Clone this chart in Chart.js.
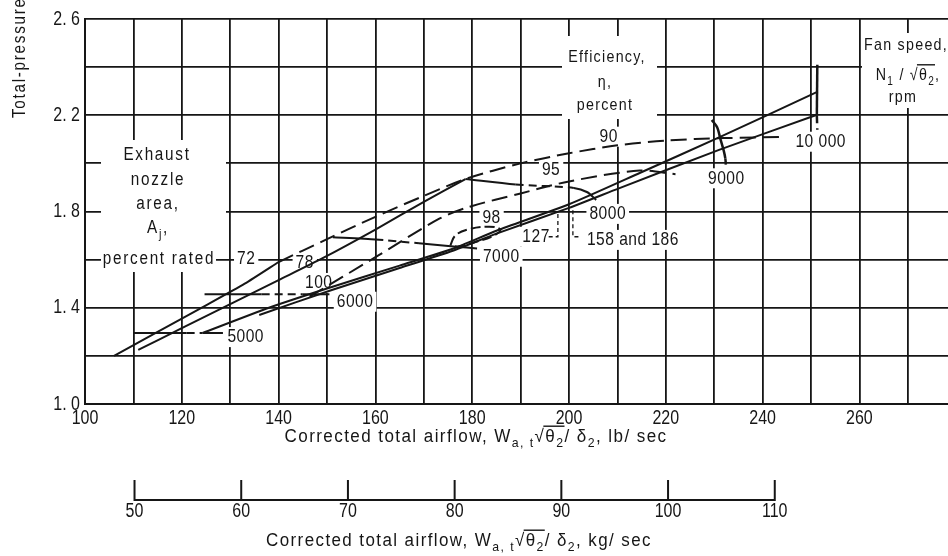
<!DOCTYPE html>
<html>
<head>
<meta charset="utf-8">
<script src="https://cdn.jsdelivr.net/npm/chart.js@4.4.0/dist/chart.umd.min.js"></script>
<style>
  html, body { margin: 0; padding: 0; background: #fff; }
</style>
</head>
<body>
<canvas id="mapChart" width="948" height="556"></canvas>
<script>
// ---- values ----
const lbTickLabels = [100, 120, 140, 160, 180, 200, 220, 240, 260];
const lbGrid = [100, 110, 120, 130, 140, 150, 160, 170, 180, 190, 200, 210, 220, 230, 240, 250, 260, 270];
const kgTickLabels = [50, 60, 70, 80, 90, 100, 110];
const pressureTickLabels = [1.0, 1.4, 1.8, 2.2, 2.6];
const pressureGrid = [1.0, 1.2, 1.4, 1.6, 1.8, 2.0, 2.2, 2.4, 2.6];

// exhaust nozzle area lines, percent rated (airflow lb/sec, pressure ratio)
const nozzle72 = [[106, 1.2], [115, 1.3], [125, 1.41], [133, 1.5], [140, 1.59]];
const nozzle78 = [[111, 1.225], [120, 1.315], [130, 1.415], [140, 1.515], [149, 1.605], [160, 1.725], [170, 1.84], [178.6, 1.935]];
const nozzle100 = [[124.3, 1.295], [138, 1.4], [150, 1.48], [165, 1.575], [176, 1.645], [185, 1.72], [200, 1.83], [214.6, 1.96], [231, 2.108], [251.4, 2.298]];
const nozzle127to186 = [[136, 1.37], [151, 1.474], [165, 1.565], [176, 1.637], [185, 1.708], [200, 1.815], [210.3, 1.896], [231, 2.056], [251.1, 2.201]];

// efficiency contours, percent
const eff90 = [[140, 1.59], [150, 1.685], [160, 1.778], [170, 1.865], [178.6, 1.935], [190, 2.0], [200, 2.042], [210, 2.075], [220, 2.095], [232, 2.105], [244.6, 2.11]];
const eff95 = [[146.4, 1.446], [160, 1.61], [173.2, 1.77], [179.5, 1.82], [190, 1.875], [200, 1.925], [214.6, 1.97], [222, 1.955]];
const eff98 = [[175.5, 1.66], [176.5, 1.7], [179, 1.725], [183.5, 1.737], [185.8, 1.725], [184.5, 1.7], [181, 1.675], [177, 1.655], [175.5, 1.66]];

// fan speed lines, rpm
const speed5000 = [[110, 1.295], [121, 1.295], [124.3, 1.295], [128.5, 1.295]];
const speed6000 = [[124.7, 1.456], [136.5, 1.456], [145, 1.456], [150.5, 1.456]];
const speed7000 = [[151.2, 1.693], [160, 1.684], [169, 1.668], [176.7, 1.654], [181, 1.646]];
const speed8000 = [[178.6, 1.935], [189, 1.912], [201, 1.898], [203.8, 1.88], [205.6, 1.848]];
const speed9000 = [[229.5, 2.18], [230.6, 2.15], [231.3, 2.1], [232, 2.05], [232.3, 2.02], [232.4, 1.995]];
const speed10000 = [[251.3, 2.41], [251.2, 2.2], [251.3, 2.14]];

// which segments are drawn dashed
const speed5000Dash = [0, 1, 0];
const speed6000Dash = [0, 1, 0];
const speed7000Dash = [0, 1, 0, 0];
const speed8000Dash = [0, 1, 0, 0];
const speed9000Dash = [0, 0, 0, 0, 1];
const speed10000Dash = [0, 1];

// leaders for the 127 and 158/186 labels
const lead127 = [[195.8, 1.695], [197.7, 1.695], [197.7, 1.8]];
const lead158 = [[200.8, 1.805], [200.8, 1.695], [202.5, 1.695]];

const LB_PER_KG = 2.20462;

// ---- styling ----
const INK = "#161616";
const FACE = '"Liberation Sans", Arial, sans-serif';

const tickStyle = { size: 20, sx: 0.8, ls: 0 };
const markStyle = { size: 19, sx: 0.82, ls: 0.6 };
const blockStyle = { size: 18, sx: 0.85, ls: 2 };
const sideStyle = { size: 17, sx: 0.84, ls: 1.5 };

// labels on the curves (placed in data units)
const curveLabels = [
  { parts: [{ t: "72" }], x: 133.3, y: 1.603 },
  { parts: [{ t: "78" }], x: 145.4, y: 1.586 },
  { parts: [{ t: "100" }], x: 148.3, y: 1.503 },
  { parts: [{ t: "5000" }], x: 133.2, y: 1.278 },
  { parts: [{ t: "6000" }], x: 155.8, y: 1.425 },
  { parts: [{ t: "7000" }], x: 186, y: 1.612 },
  { parts: [{ t: "98" }], x: 184, y: 1.773 },
  { parts: [{ t: "127" }], x: 193.2, y: 1.695 },
  { parts: [{ t: "158 and 186" }], x: 213.2, y: 1.682 },
  { parts: [{ t: "8000" }], x: 208, y: 1.79 },
  { parts: [{ t: "90" }], x: 208.2, y: 2.111 },
  { parts: [{ t: "95" }], x: 196.3, y: 1.973 },
  { parts: [{ t: "9000" }], x: 232.5, y: 1.938 },
  { parts: [{ t: "10 000" }], x: 252, y: 2.09 },
];

// text blocks (pixel centres) and the white panels behind them
const textBlocks = [
  { parts: [{ t: "Exhaust" }], x: 157, y: 155, st: blockStyle },
  { parts: [{ t: "nozzle" }], x: 158, y: 180, st: blockStyle },
  { parts: [{ t: "area," }], x: 158, y: 204, st: blockStyle },
  { parts: [{ t: "A" }, { t: "j", sub: true }, { t: "," }], x: 158, y: 228, st: blockStyle },
  { parts: [{ t: "percent rated" }], x: 159, y: 259, st: blockStyle },
  { parts: [{ t: "Efficiency," }], x: 607, y: 57, st: sideStyle },
  { parts: [{ t: "η," }], x: 605, y: 82, st: sideStyle },
  { parts: [{ t: "percent" }], x: 605, y: 105, st: sideStyle },
  { parts: [{ t: "Fan speed," }], x: 906, y: 45, st: sideStyle },
  { parts: [{ t: "N" }, { t: "1", sub: true }, { t: " / √" }, { t: "θ", over: true }, { t: "2", sub: true, over: true }, { t: "," }], x: 908, y: 75, st: sideStyle },
  { parts: [{ t: "rpm" }], x: 903, y: 97, st: sideStyle },
];
const whitePanels = [
  [101, 140, 125, 110],
  [101, 250, 115, 22],
  [562, 36, 95, 83],
  [862, 33, 86, 75],
];

function setFont(ctx, size, ls) {
  ctx.font = size + "px " + FACE;
  ctx.letterSpacing = (ls || 0) + "px";
}

function partSize(p, size) {
  return p.sub ? Math.round(size * 0.72) : size;
}

function textWidth(ctx, parts, st) {
  return parts.reduce((sum, p) => {
    setFont(ctx, partSize(p, st.size), st.ls);
    return sum + ctx.measureText(p.t).width * st.sx;
  }, 0);
}

// draws text made of parts (subscripts, overline for the radical), condensed by st.sx
function drawText(ctx, parts, cx, cy, st, align) {
  const total = textWidth(ctx, parts, st);
  let x = cx - total / 2;
  if (align === "right") x = cx - total;
  if (align === "left") x = cx;
  let overFrom = null;
  ctx.textAlign = "left";
  ctx.textBaseline = "middle";
  ctx.fillStyle = INK;
  parts.forEach((p, i) => {
    setFont(ctx, partSize(p, st.size), st.ls);
    const w = ctx.measureText(p.t).width * st.sx;
    ctx.save();
    ctx.translate(x, cy + (p.sub ? st.size * 0.38 : 0));
    ctx.scale(st.sx, 1);
    ctx.fillText(p.t, 0, 0);
    ctx.restore();
    if (p.over) {
      if (overFrom === null) overFrom = x;
      const next = parts[i + 1];
      if (!next || !next.over) {
        const oy = cy - st.size * 0.6;
        ctx.strokeStyle = INK;
        ctx.lineWidth = 1.4;
        ctx.beginPath();
        ctx.moveTo(overFrom - 2, oy);
        ctx.lineTo(x + w, oy);
        ctx.stroke();
        overFrom = null;
      }
    }
    x += w;
  });
  return total;
}

function labelPixel(chart, item) {
  return [chart.scales.x.getPixelForValue(item.x), chart.scales.y.getPixelForValue(item.y)];
}

function toPoints(list) {
  return list.map(([x, y]) => ({ x: x, y: y }));
}

function curve(list, opts) {
  opts = opts || {};
  const ds = {
    data: toPoints(list),
    borderColor: INK,
    borderWidth: opts.width || 2,
    borderDash: opts.dash || [],
    tension: opts.tension || 0,
    pointRadius: 0,
    fill: false,
  };
  if (opts.segDash) {
    ds.segment = {
      borderDash: (c) => (opts.segDash[c.p0DataIndex] ? [8, 5] : undefined),
    };
  }
  return ds;
}

function buildDatasets() {
  const longDash = [16, 7];
  return [
    curve(nozzle72, { tension: 0.2 }),
    curve(nozzle78, { tension: 0.2 }),
    curve(nozzle100, { tension: 0.2 }),
    curve(nozzle127to186, { tension: 0.2 }),
    curve(eff90, { dash: longDash, tension: 0.3 }),
    curve(eff95, { dash: longDash, tension: 0.3 }),
    curve(eff98, { dash: [10, 4], tension: 0.4 }),
    curve(speed5000, { segDash: speed5000Dash }),
    curve(speed6000, { segDash: speed6000Dash }),
    curve(speed7000, { segDash: speed7000Dash, tension: 0.2 }),
    curve(speed8000, { segDash: speed8000Dash, tension: 0.3 }),
    curve(speed9000, { segDash: speed9000Dash, tension: 0.3, width: 2.5 }),
    curve(speed10000, { segDash: speed10000Dash, width: 2.5 }),
    curve(lead127, { dash: [4, 3], width: 1.3 }),
    curve(lead158, { dash: [4, 3], width: 1.3 }),
  ];
}

function airflowTitle(unit) {
  return [
    { t: "Corrected total airflow, W" },
    { t: "a, t", sub: true },
    { t: "√" },
    { t: "θ", over: true },
    { t: "2", sub: true, over: true },
    { t: "/ δ" },
    { t: "2", sub: true },
    { t: ", " + unit },
  ];
}

// squeeze a title into the width it takes in the original
function fitStyle(ctx, parts, size, ls, width) {
  const natural = textWidth(ctx, parts, { size: size, sx: 1, ls: ls });
  return { size: size, sx: width / natural, ls: ls };
}

const paperPlugin = {
  id: "paper",
  beforeDraw(chart) {
    const ctx = chart.ctx;
    ctx.save();
    ctx.fillStyle = "#fff";
    ctx.fillRect(0, 0, chart.width, chart.height);
    ctx.restore();
  },
  beforeDatasetsDraw(chart) {
    const ctx = chart.ctx;
    ctx.save();
    ctx.fillStyle = "#fff";
    whitePanels.forEach(([x, y, w, h]) => ctx.fillRect(x, y, w, h));
    curveLabels.forEach((item) => {
      const [px, py] = labelPixel(chart, item);
      const w = textWidth(ctx, item.parts, markStyle);
      ctx.fillStyle = "#fff";
      ctx.fillRect(px - w / 2 - 3, py - 10, w + 6, 20);
    });
    ctx.restore();
  },
  afterDatasetsDraw(chart) {
    const ctx = chart.ctx;
    ctx.save();
    curveLabels.forEach((item) => {
      const [px, py] = labelPixel(chart, item);
      drawText(ctx, item.parts, px, py, markStyle);
    });
    textBlocks.forEach((item) => drawText(ctx, item.parts, item.x, item.y, item.st));
    ctx.restore();
  },
  afterDraw(chart) {
    const ctx = chart.ctx;
    const xs = chart.scales.x;
    const ys = chart.scales.y;
    ctx.save();

    // tick labels
    lbTickLabels.forEach((v) => drawText(ctx, [{ t: String(v) }], xs.getPixelForValue(v), 418, tickStyle));
    pressureTickLabels.forEach((v) =>
      drawText(ctx, [{ t: v.toFixed(1).replace(".", ". ") }], 80, ys.getPixelForValue(v), tickStyle, "right")
    );

    // y title, runs off the top of the page like the original
    ctx.save();
    ctx.translate(20, 118);
    ctx.rotate(-Math.PI / 2);
    drawText(ctx, [{ t: "Total-pressure ratio" }], 0, 0, blockStyle, "left");
    ctx.restore();

    const lbTitle = airflowTitle("lb/ sec");
    drawText(ctx, lbTitle, 476, 437, fitStyle(ctx, lbTitle, 18, 1.5, 383));

    // metric airflow scale, mapped through the lb/sec axis
    const base = 500;
    const left = xs.getPixelForValue(kgTickLabels[0] * LB_PER_KG);
    const right = xs.getPixelForValue(kgTickLabels[kgTickLabels.length - 1] * LB_PER_KG);
    ctx.strokeStyle = INK;
    ctx.lineWidth = 2;
    ctx.beginPath();
    ctx.moveTo(left - 1, base);
    ctx.lineTo(right + 1, base);
    kgTickLabels.forEach((kg) => {
      const px = xs.getPixelForValue(kg * LB_PER_KG);
      ctx.moveTo(px, base);
      ctx.lineTo(px, base - 20);
    });
    ctx.stroke();
    kgTickLabels.forEach((kg) => drawText(ctx, [{ t: String(kg) }], xs.getPixelForValue(kg * LB_PER_KG), 511, tickStyle));
    const kgTitle = airflowTitle("kg/ sec");
    drawText(ctx, kgTitle, 459, 541, fitStyle(ctx, kgTitle, 18, 1.5, 386));
    ctx.restore();
  },
};

new Chart(document.getElementById("mapChart"), {
  type: "line",
  data: { datasets: buildDatasets() },
  options: {
    responsive: false,
    animation: false,
    devicePixelRatio: 1,
    layout: { padding: { top: 19, left: 0, right: 0, bottom: 0 } },
    plugins: { legend: { display: false }, tooltip: { enabled: false } },
    scales: {
      x: {
        type: "linear",
        min: 100,
        max: 278.3,
        afterBuildTicks: (s) => { s.ticks = lbGrid.map((v) => ({ value: v })); },
        afterFit: (s) => { s.height = 152; },
        ticks: { display: false, autoSkip: false },
        grid: { color: INK, lineWidth: 1.8, drawTicks: false },
        border: { color: INK, width: 2 },
      },
      y: {
        type: "linear",
        min: 1.0,
        max: 2.6,
        afterBuildTicks: (s) => { s.ticks = pressureGrid.map((v) => ({ value: v })); },
        afterFit: (s) => { s.width = 85; },
        ticks: { display: false, autoSkip: false },
        grid: { color: INK, lineWidth: 1.8, drawTicks: false },
        border: { color: INK, width: 2 },
      },
    },
  },
  plugins: [paperPlugin],
});
</script>
</body>
</html>
